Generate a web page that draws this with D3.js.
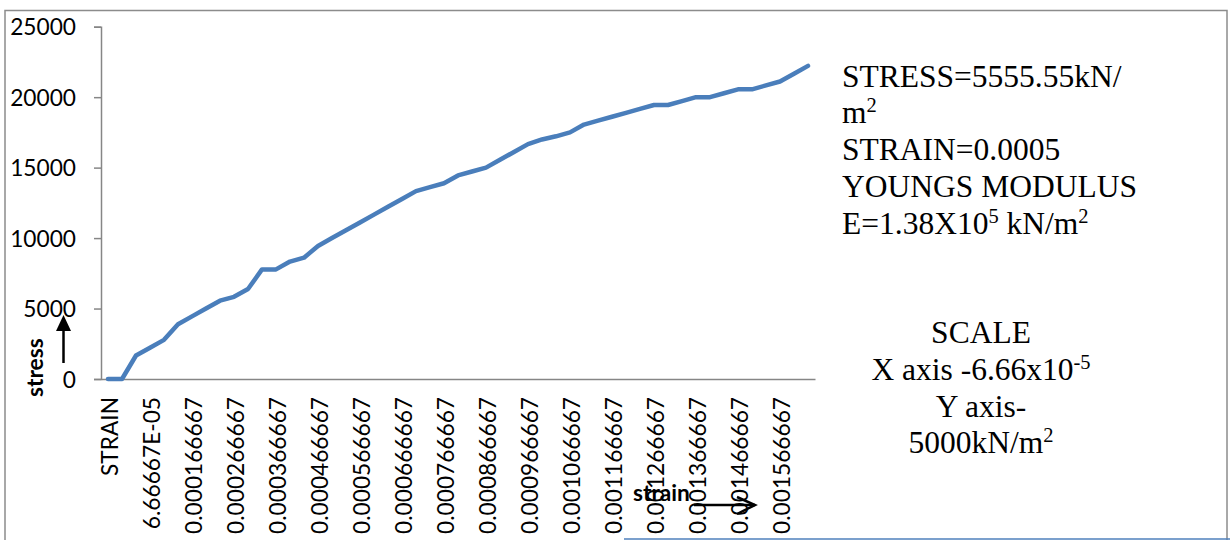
<!DOCTYPE html>
<html>
<head>
<meta charset="utf-8">
<script src="https://cdn.jsdelivr.net/npm/d3@7"></script>
<style>
  html, body { margin: 0; padding: 0; background: #fff; }
  svg { display: block; }
</style>
</head>
<body>
<svg id="chart" width="1230" height="540"></svg>
<script>
// ---- data ----
const categories = [
  "STRAIN", "0", "3.33333E-05", "6.66667E-05", "0.0001", "0.000133333",
  "0.000166667", "0.0002", "0.000233333", "0.000266667", "0.0003", "0.000333333",
  "0.000366667", "0.0004", "0.000433333", "0.000466667", "0.0005", "0.000533333",
  "0.000566667", "0.0006", "0.000633333", "0.000666667", "0.0007", "0.000733333",
  "0.000766667", "0.0008", "0.000833333", "0.000866667", "0.0009", "0.000933333",
  "0.000966667", "0.001", "0.001033333", "0.001066667", "0.0011", "0.001133333",
  "0.001166667", "0.0012", "0.001233333", "0.001266667", "0.0013", "0.001333333",
  "0.001366667", "0.0014", "0.001433333", "0.001466667", "0.0015", "0.001533333",
  "0.001566667", "0.0016", "0.001633333"
];
const stress = [
  0, 0, 1667, 2222, 2778, 3889, 4444, 5000, 5556, 5833, 6389, 7778,
  7778, 8333, 8611, 9444, 10000, 10556, 11111, 11667, 12222, 12778, 13333, 13611,
  13889, 14444, 14722, 15000, 15556, 16111, 16667, 17000, 17222, 17500, 18056, 18333,
  18611, 18889, 19167, 19444, 19444, 19722, 20000, 20000, 20278, 20556, 20556, 20833,
  21111, 21667, 22222
];
const shownLabels = [
  "STRAIN", "6.66667E-05", "0.000166667", "0.000266667", "0.000366667", "0.000466667",
  "0.000566667", "0.000666667", "0.000766667", "0.000866667", "0.000966667", "0.001066667",
  "0.001166667", "0.001266667", "0.001366667", "0.001466667", "0.001566667"
];
const yTicks = [0, 5000, 10000, 15000, 20000, 25000];
const infoLines = [
  [["STRESS=5555.55kN/"]],
  [["m"], ["2", "sup"]],
  [["STRAIN=0.0005"]],
  [["YOUNGS MODULUS"]],
  [["E=1.38X10"], ["5", "sup"], [" kN/m"], ["2", "sup"]]
];
const scaleLines = [
  [["SCALE"]],
  [["X axis -6.66x10"], ["-5", "sup"]],
  [["Y axis-"]],
  [["5000kN/m"], ["2", "sup"]]
];

// ---- drawing ----
const svg = d3.select("#chart");
const axisFont = "Lato, 'Open Sans', sans-serif";
const serif = "'Liberation Serif', 'Times New Roman', serif";

// outer border
svg.append("rect").attr("x", 5).attr("y", 10.5).attr("width", 1222).attr("height", 560)
  .attr("fill", "none").attr("stroke", "#8c8c8c").attr("stroke-width", 1.5);

const x = d3.scaleBand().domain(categories).range([101, 815]).padding(0);
const y = d3.scaleLinear().domain([0, 25000]).range([379, 26.7]);
const cx = d => x(d) + x.bandwidth() / 2;

// y axis
const yAxis = svg.append("g").attr("transform", "translate(101,0)")
  .call(d3.axisLeft(y).tickValues(yTicks).tickSize(7).tickPadding(18).tickFormat(d3.format("d")));
yAxis.select(".domain").attr("stroke", "#868686").attr("stroke-width", 1.5);
yAxis.selectAll(".tick line").attr("stroke", "#868686").attr("stroke-width", 1.5);
yAxis.selectAll(".tick text").attr("font-family", axisFont).attr("font-size", 22.7)
  .attr("fill", "#000").attr("dy", "0.36em");

// x axis
const xAxis = svg.append("g").attr("transform", "translate(0,379)")
  .call(d3.axisBottom(x).tickValues(shownLabels).tickSize(0).tickSizeOuter(0).tickPadding(0));
xAxis.select(".domain").attr("stroke", "#868686").attr("stroke-width", 1.5);
xAxis.selectAll(".tick text")
  .attr("font-family", axisFont).attr("font-size", 22.7).attr("fill", "#000")
  .attr("text-anchor", "end")
  .attr("transform", "translate(2,18) rotate(-90)")
  .attr("x", 0).attr("y", 0).attr("dy", "0.35em");

// line
const line = d3.line().x((d, i) => cx(categories[i])).y(d => y(d));
svg.append("path").datum(stress).attr("d", line)
  .attr("fill", "none").attr("stroke", "#4a7ebb").attr("stroke-width", 4.5)
  .attr("stroke-linejoin", "round").attr("stroke-linecap", "round");

// stress label + arrow
svg.append("text").attr("transform", "translate(43,397) rotate(-90)")
  .attr("font-family", axisFont).attr("font-weight", "bold").attr("font-size", 22.7)
  .attr("fill", "#000").text("stress");
svg.append("line").attr("x1", 63.5).attr("y1", 363).attr("x2", 63.5).attr("y2", 328)
  .attr("stroke", "#000").attr("stroke-width", 2.5);
svg.append("path").attr("d", "M63.5,315 L71,331 L56,331 Z").attr("fill", "#000");

// strain label + arrow
svg.append("text").attr("x", 633).attr("y", 501)
  .attr("font-family", axisFont).attr("font-weight", "bold").attr("font-size", 22.7)
  .attr("fill", "#000").text("strain");
svg.append("line").attr("x1", 694).attr("y1", 505).attr("x2", 755).attr("y2", 505)
  .attr("stroke", "#000").attr("stroke-width", 2.5);
svg.append("path").attr("d", "M737,497 L755,505 L737,514")
  .attr("fill", "none").attr("stroke", "#000").attr("stroke-width", 2.5);

// blue separator line at the bottom
svg.append("line").attr("x1", 624).attr("y1", 539).attr("x2", 1230).attr("y2", 539)
  .attr("stroke", "#4f81bd").attr("stroke-width", 1.5);

// text blocks
function drawLines(lines, x0, y0, anchor) {
  lines.forEach((parts, i) => {
    const t = svg.append("text").attr("x", x0).attr("y", y0 + i * 36.7)
      .attr("font-family", serif).attr("font-size", 31.5).attr("fill", "#000")
      .attr("text-anchor", anchor);
    parts.forEach(p => {
      const ts = t.append("tspan").text(p[0]);
      if (p[1] === "sup") ts.attr("font-size", 20.5).attr("baseline-shift", "11");
    });
  });
}
drawLines(infoLines, 842, 86.7, "start");
drawLines(scaleLines, 981, 343.3, "middle");
</script>
</body>
</html>
